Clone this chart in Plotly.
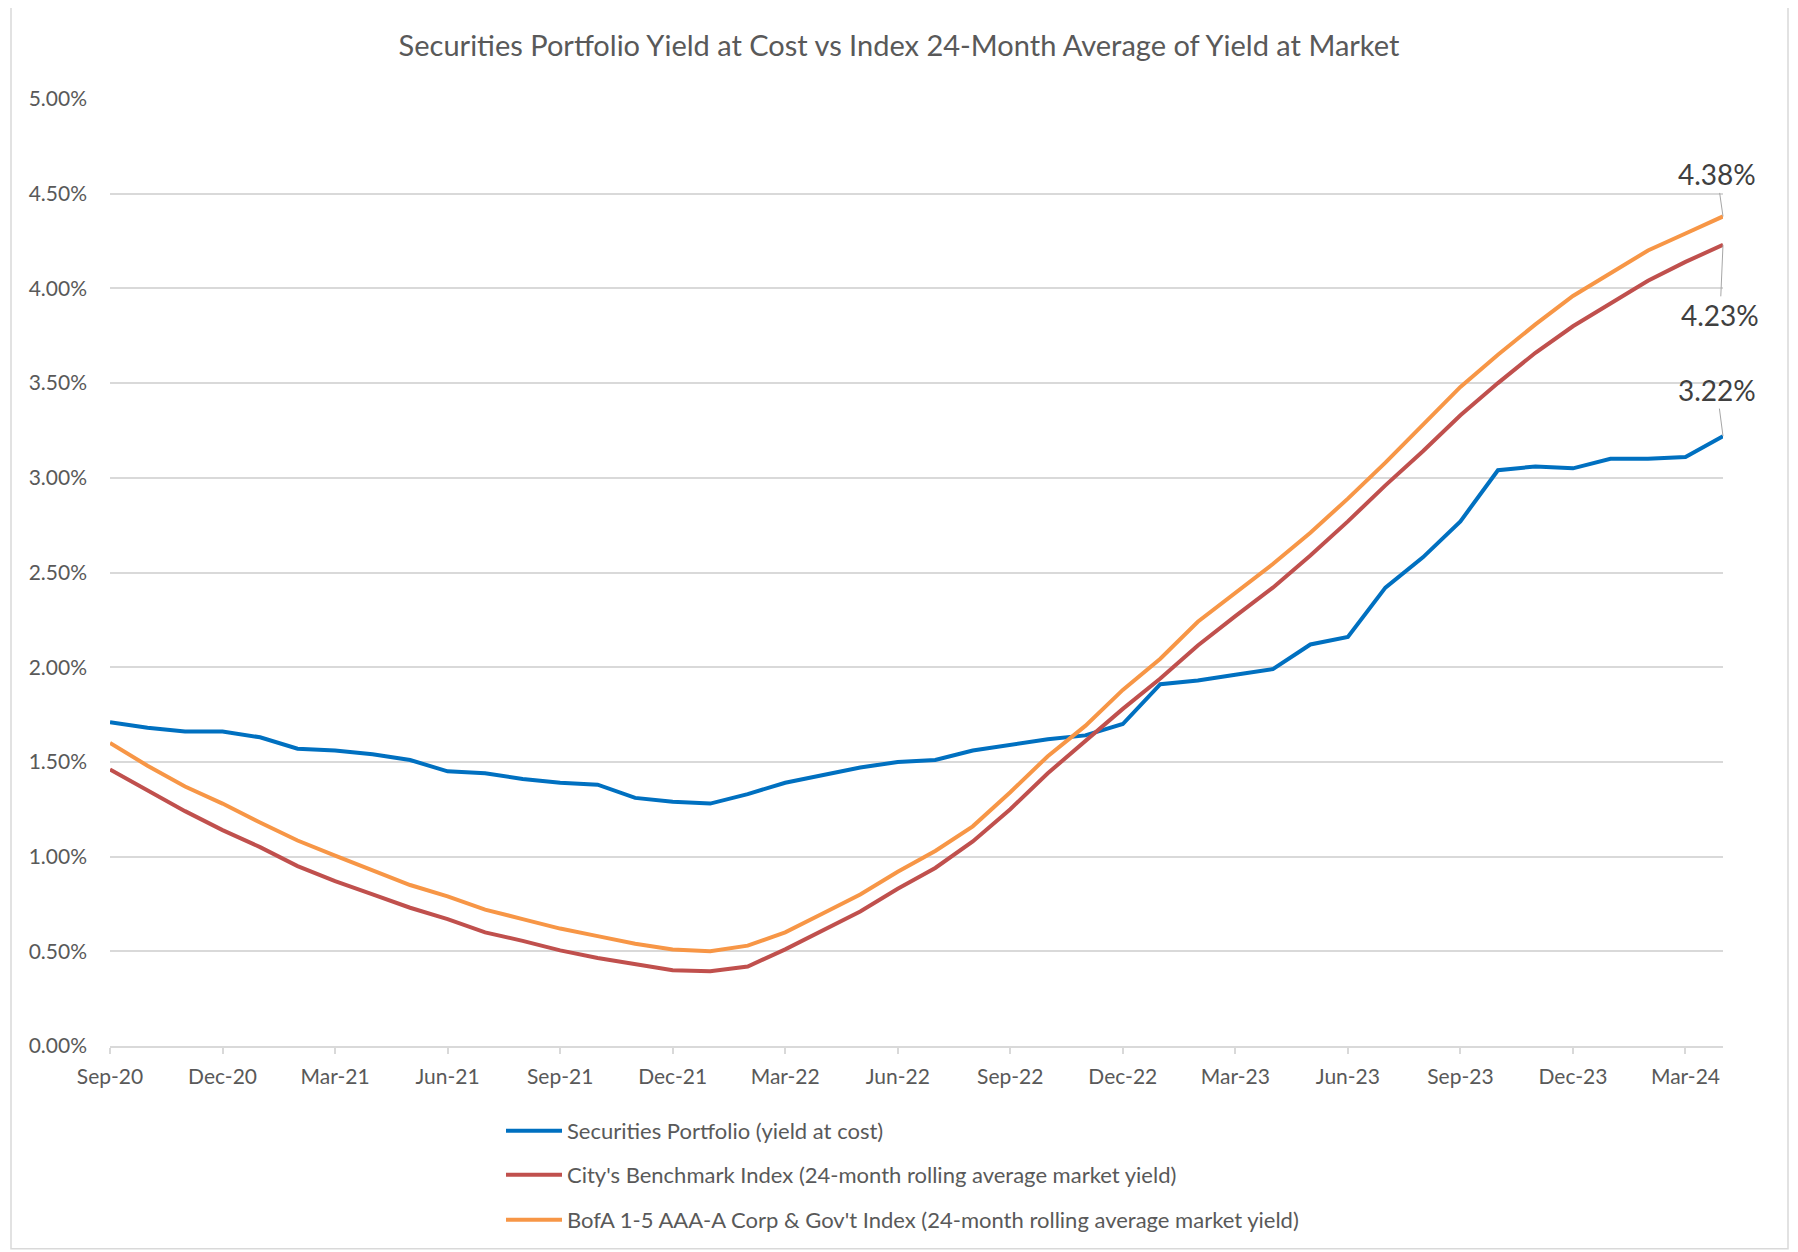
import plotly.graph_objects as go

months = ["Sep-20","Oct-20","Nov-20","Dec-20","Jan-21","Feb-21","Mar-21","Apr-21","May-21","Jun-21",
          "Jul-21","Aug-21","Sep-21","Oct-21","Nov-21","Dec-21","Jan-22","Feb-22","Mar-22","Apr-22",
          "May-22","Jun-22","Jul-22","Aug-22","Sep-22","Oct-22","Nov-22","Dec-22","Jan-23","Feb-23",
          "Mar-23","Apr-23","May-23","Jun-23","Jul-23","Aug-23","Sep-23","Oct-23","Nov-23","Dec-23",
          "Jan-24","Feb-24","Mar-24","Apr-24"]

portfolio = [1.71,1.68,1.66,1.66,1.63,1.57,1.56,1.54,1.51,1.45,
             1.44,1.41,1.39,1.38,1.31,1.29,1.28,1.33,1.39,1.43,
             1.47,1.50,1.51,1.56,1.59,1.62,1.64,1.70,1.91,1.93,
             1.96,1.99,2.12,2.16,2.42,2.58,2.77,3.04,3.06,3.05,
             3.10,3.10,3.11,3.22]

benchmark = [1.46,1.35,1.24,1.14,1.05,0.95,0.87,0.80,0.73,0.67,
             0.60,0.555,0.505,0.465,0.43,0.40,0.395,0.42,0.51,0.61,
             0.71,0.83,0.94,1.08,1.25,1.44,1.61,1.78,1.94,2.115,
             2.27,2.42,2.59,2.77,2.96,3.14,3.33,3.50,3.66,3.80,
             3.92,4.04,4.14,4.23]

bofa = [1.60,1.48,1.37,1.28,1.18,1.085,1.005,0.925,0.85,0.79,
        0.72,0.67,0.62,0.58,0.54,0.51,0.50,0.53,0.60,0.70,
        0.80,0.92,1.03,1.16,1.34,1.53,1.69,1.88,2.045,2.24,
        2.39,2.545,2.71,2.89,3.08,3.28,3.48,3.65,3.81,3.96,
        4.08,4.20,4.29,4.38]

series_names = ["Securities Portfolio (yield at cost)",
                "City's Benchmark Index (24-month rolling average market yield)",
                "BofA 1-5 AAA-A Corp & Gov't Index (24-month rolling average market yield)"]
series_colors = ["#0070C0", "#C0504D", "#F79646"]
series_values = [portfolio, benchmark, bofa]

y_ticks = [0, 0.5, 1.0, 1.5, 2.0, 2.5, 3.0, 3.5, 4.0, 4.5, 5.0]
y_tick_text = [f"{v:.2f}%" for v in y_ticks]
x_tick_labels = months[::3]

FONT = "Lato"
GREY = "#595959"
OFF = 8  # page body margin
W, H = 1798 - OFF, 1252 - OFF
ML, MT = 110 - OFF, 99 - OFF
MR = W - (1723 - OFF)
MB = H - (1047 - OFF)

pw = W - ML - MR
ph = H - MT - MB
def px_x(x):
    return (x - OFF - ML) / pw
def px_y(y):
    return (H - MB - (y - OFF)) / ph

legend_ids = ["legend", "legend2", "legend3"]
legend_rows = [1131, 1175, 1220]

fig = go.Figure()
for i, (name, col, vals) in enumerate(zip(series_names, series_colors, series_values)):
    fig.add_trace(go.Scatter(x=months, y=vals, mode="lines", name=name,
                             line=dict(color=col, width=4), legend=legend_ids[i]))

# end labels
label_offsets = [(-6, -46), (-3, 70), (-6, -42)]
for vals, (ax, ay) in zip(series_values, label_offsets):
    fig.add_annotation(x=months[-1], y=vals[-1], text=f"{vals[-1]:.2f}%",
                       showarrow=True, arrowhead=0, arrowwidth=1, arrowcolor="#A6A6A6",
                       ax=ax, ay=ay, standoff=0,
                       font=dict(family=FONT, size=28, color="#404040"))

fig.add_shape(type="rect", xref="paper", yref="paper",
              x0=px_x(11), x1=px_x(1788), y0=px_y(1250), y1=px_y(7),
              line=dict(color="#D9D9D9", width=1.5), fillcolor="rgba(0,0,0,0)", layer="below")

legend_style = dict(xanchor="left", yanchor="middle", orientation="v",
                    font=dict(family=FONT, size=22, color=GREY),
                    itemwidth=56, bgcolor="rgba(0,0,0,0)")
legends = {lid: dict(x=px_x(501), y=px_y(row), **legend_style)
           for lid, row in zip(legend_ids, legend_rows)}

fig.update_layout(
    width=W, height=H,
    margin=dict(l=ML, r=MR, t=MT, b=MB),
    paper_bgcolor="white", plot_bgcolor="white",
    title=dict(text="Securities Portfolio Yield at Cost vs Index 24-Month Average of Yield at Market",
               x=(899 - OFF) / W, xanchor="center", y=1 - (46 - OFF) / H, yanchor="middle",
               font=dict(family=FONT, size=29, color=GREY)),
    font=dict(family=FONT, color=GREY),
    showlegend=True,
    xaxis=dict(type="category", range=[0, len(months) - 1],
               tickmode="array", tickvals=x_tick_labels, ticktext=x_tick_labels,
               showgrid=False, showline=True, linecolor="#D9D9D9", linewidth=2,
               ticks="outside", ticklen=6, tickcolor="#D9D9D9", tickwidth=1.5,
               ticklabelstandoff=5,
               tickfont=dict(family=FONT, size=21, color=GREY), tickangle=0, zeroline=False),
    yaxis=dict(range=[0, 5.0], tickmode="array", tickvals=y_ticks, ticktext=y_tick_text,
               showgrid=True, gridcolor="#D9D9D9", gridwidth=1.5, zeroline=False,
               showline=False, ticks="", ticklabelstandoff=22,
               tickfont=dict(family=FONT, size=21, color=GREY)),
    **legends,
)

fig.write_html("out.html")
